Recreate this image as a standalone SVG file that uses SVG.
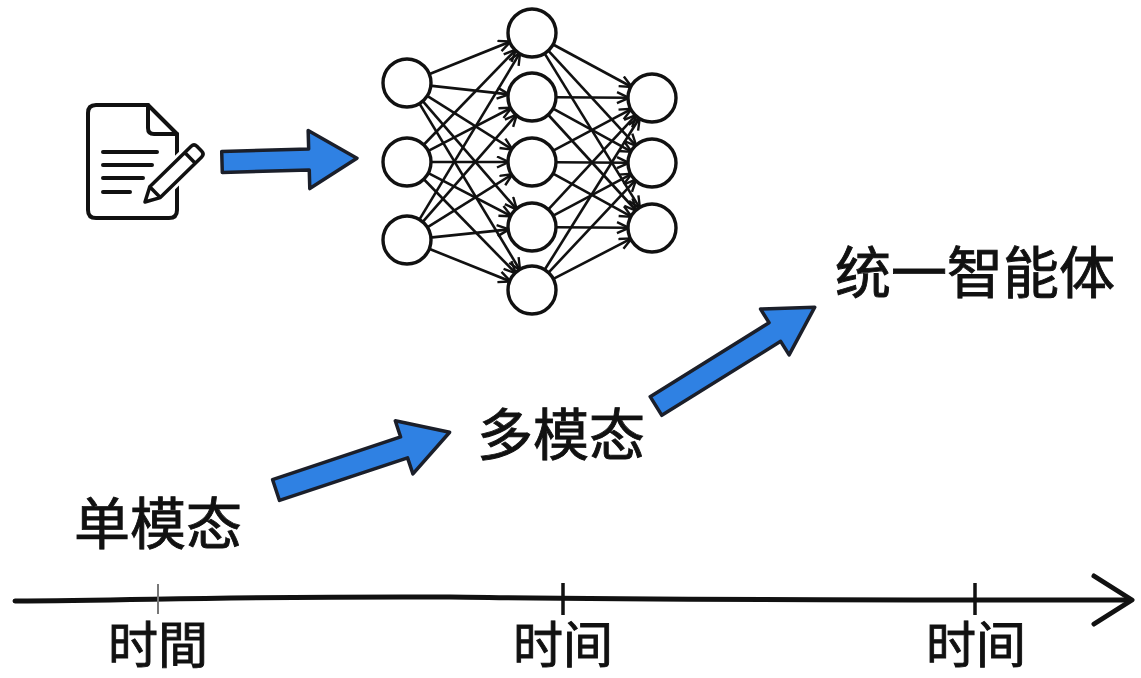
<svg xmlns="http://www.w3.org/2000/svg" width="1141" height="678" viewBox="0 0 1141 678">
<style>
.lbl{font-family:"Noto Sans CJK SC","Noto Sans",sans-serif;fill:#111;font-weight:400;stroke:#111;stroke-width:0.9;}
.big{font-size:56px;}
.tl{font-size:50px;}
.neuron{fill:#fff;stroke:#111;stroke-width:3.4;}
.edge{stroke:#111;stroke-width:2.6;fill:none;marker-end:url(#vh);}
.blue{fill:#2f81e3;stroke:#1b1f2a;stroke-width:3.5;stroke-linejoin:round;}
.ink{fill:none;stroke:#111;stroke-width:4;stroke-linecap:round;stroke-linejoin:round;}
</style>
<defs>
<marker id="vh" markerUnits="userSpaceOnUse" markerWidth="16" markerHeight="16" refX="13" refY="6.5" orient="auto">
<path d="M1,1 L13,6.5 L1,12" fill="none" stroke="#111" stroke-width="2.4" stroke-linejoin="round"/>
</marker>
</defs>
<rect width="1141" height="678" fill="#fff"/>

<g id="document-icon">
<path d="M96,105 L148,105 L177,134 L177,210 Q177,218 169,218 L96,218 Q88,218 88,210 L88,113 Q88,105 96,105 Z" fill="#fff" stroke="#111" stroke-width="4" stroke-linejoin="round"/>
<path class="ink" d="M148,105 L148,128 Q148,134 154,134 L177,134"/>
<path class="ink" d="M103,152 L157,152 M103,165 L152,165 M103,178 L143,178 M103,192 L130,192"/>
<g transform="translate(145,202) rotate(-44.4)">
<path d="M-3,0 L13,-12 L78,-12 L78,12 L13,12 Z" fill="#fff"/>
<path d="M0,0 L14,-7.5 L72,-7.5 Q76,-7.5 76,-3.5 L76,3.5 Q76,7.5 72,7.5 L14,7.5 Z M14,-7.5 L14,7.5 M63,-7.5 L63,7.5" fill="#fff" stroke="#111" stroke-width="3.5" stroke-linejoin="round"/>
</g>
</g>

<g id="connectors">
<polygon class="blue" transform="translate(222,162) rotate(-1.6)" points="0,-10.5 87,-10.5 87,-29 135,0 87,29 87,10.5 0,10.5"/>
<polygon class="blue" transform="translate(276,490) rotate(-18.4)" points="0,-11 135,-11 135,-28 183,0 135,28 135,11 0,11"/>
<polygon class="blue" transform="translate(656,406) rotate(-31.9)" points="0,-11 140,-11 140,-27 187,0 140,27 140,11 0,11"/>
</g>

<g id="neural-network">
<g id="nn-edges">
<line class="edge" x1="428.4" y1="74.5" x2="510.6" y2="41.5"/>
<line class="edge" x1="429.9" y1="85.6" x2="509.1" y2="94.4"/>
<line class="edge" x1="426.4" y1="95.3" x2="512.6" y2="149.7"/>
<line class="edge" x1="422.1" y1="100.4" x2="516.9" y2="209.6"/>
<line class="edge" x1="418.9" y1="102.7" x2="520.1" y2="270.3"/>
<line class="edge" x1="423.0" y1="145.5" x2="516.0" y2="49.5"/>
<line class="edge" x1="427.4" y1="151.4" x2="511.6" y2="107.6"/>
<line class="edge" x1="430" y1="162" x2="509" y2="162"/>
<line class="edge" x1="427.4" y1="172.6" x2="511.6" y2="216.4"/>
<line class="edge" x1="423.1" y1="178.5" x2="515.9" y2="273.5"/>
<line class="edge" x1="418.9" y1="220.3" x2="520.1" y2="52.7"/>
<line class="edge" x1="422.1" y1="222.7" x2="516.9" y2="114.3"/>
<line class="edge" x1="426.5" y1="227.8" x2="512.5" y2="174.2"/>
<line class="edge" x1="429.9" y1="237.6" x2="509.1" y2="229.4"/>
<line class="edge" x1="428.4" y1="248.5" x2="510.6" y2="281.5"/>
<line class="edge" x1="552.2" y1="44.0" x2="631.8" y2="87.0"/>
<line class="edge" x1="547.6" y1="49.9" x2="636.4" y2="146.1"/>
<line class="edge" x1="544.1" y1="52.6" x2="640.0" y2="208.4"/>
<line class="edge" x1="555" y1="97.2" x2="629" y2="97.8"/>
<line class="edge" x1="552.2" y1="108.1" x2="631.8" y2="151.9"/>
<line class="edge" x1="547.5" y1="114.0" x2="636.5" y2="211.0"/>
<line class="edge" x1="552.3" y1="151.2" x2="631.7" y2="108.8"/>
<line class="edge" x1="555" y1="162.2" x2="629" y2="162.8"/>
<line class="edge" x1="552.2" y1="173.1" x2="631.8" y2="216.9"/>
<line class="edge" x1="547.7" y1="210.2" x2="636.3" y2="114.8"/>
<line class="edge" x1="552.3" y1="216.2" x2="631.7" y2="173.8"/>
<line class="edge" x1="555" y1="227.2" x2="629" y2="227.8"/>
<line class="edge" x1="544.2" y1="270.5" x2="639.8" y2="117.5"/>
<line class="edge" x1="547.8" y1="273.3" x2="636.2" y2="179.3"/>
<line class="edge" x1="552.4" y1="279.4" x2="631.6" y2="238.4"/>
</g>
<g id="nn-input">
<circle class="neuron" cx="407" cy="83" r="24"/>
<circle class="neuron" cx="407" cy="162" r="24"/>
<circle class="neuron" cx="407" cy="240" r="24"/>
</g>
<g id="nn-hidden">
<circle class="neuron" cx="532" cy="33" r="24"/>
<circle class="neuron" cx="532" cy="97" r="24"/>
<circle class="neuron" cx="532" cy="162" r="24"/>
<circle class="neuron" cx="532" cy="227" r="24"/>
<circle class="neuron" cx="532" cy="290" r="24"/>
</g>
<g id="nn-output">
<circle class="neuron" cx="652" cy="98" r="24"/>
<circle class="neuron" cx="652" cy="163" r="24"/>
<circle class="neuron" cx="652" cy="228" r="24"/>
</g>
</g>

<g id="label-single"><text class="lbl big" x="74" y="544">单模态</text></g>
<g id="label-multi"><text class="lbl big" x="477" y="455">多模态</text></g>
<g id="label-unified"><text class="lbl big" x="835" y="293">统一智能体</text></g>

<g id="timeline">
<path d="M15,601 C150,600 260,596 450,597 C540,598 600,600 1128,600" fill="none" stroke="#111" stroke-width="5" stroke-linecap="round"/>
<path d="M1094,576 L1132,600 L1094,624" fill="none" stroke="#111" stroke-width="5" stroke-linecap="round" stroke-linejoin="round"/>
<line x1="158" y1="584" x2="158" y2="614" stroke="#777" stroke-width="2"/>
<line x1="563" y1="583" x2="563" y2="615" stroke="#111" stroke-width="3.5"/>
<line x1="975" y1="583" x2="975" y2="615" stroke="#111" stroke-width="3.5"/>
</g>
<g id="tick-label-1"><text class="lbl tl" x="108" y="663">时間</text></g>
<g id="tick-label-2"><text class="lbl tl" x="513" y="663">时间</text></g>
<g id="tick-label-3"><text class="lbl tl" x="926" y="663">时间</text></g>
</svg>
